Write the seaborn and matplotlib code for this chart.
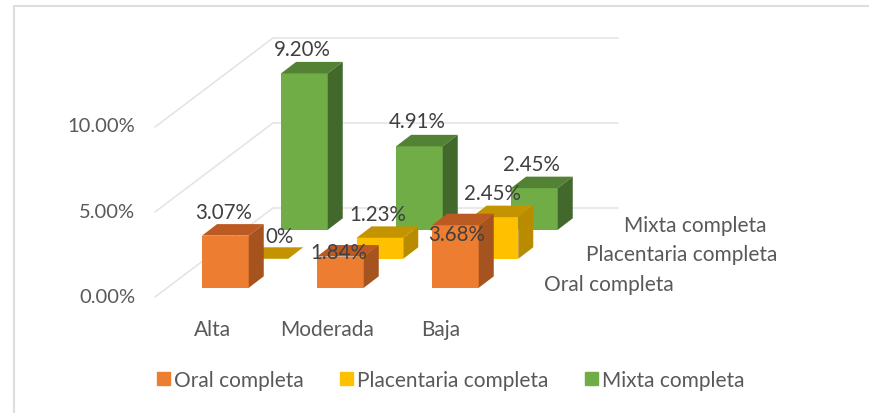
import numpy as np
import seaborn as sns
import matplotlib
matplotlib.use("Agg")
import matplotlib.pyplot as plt
from matplotlib.patches import Patch

categorias = ["Alta", "Moderada", "Baja"]
series = ["Oral completa", "Placentaria completa", "Mixta completa"]
oral = [3.07, 1.84, 3.68]
placentaria = [0.0, 1.23, 2.45]
mixta = [9.20, 4.91, 2.45]
etiq_oral = ["3.07%", "1.84%", "3.68%"]
etiq_placentaria = ["0%", "1.23%", "2.45%"]
etiq_mixta = ["9.20%", "4.91%", "2.45%"]
ticks = [0, 5, 10]
tick_labels = ["0.00%", "5.00%", "10.00%"]

W, H = 869, 414
# escala en pixeles de la proyeccion oblicua
PX_CAT = 115.0
PX_PCT = 17.0
X0_PX = 225.4
Y0_PX = 288.8
ANCHO = 46.7 / PX_CAT
PASO_X = 39.5 / PX_CAT
PASO_Y = 29.0 / PX_PCT
LADO_X = 15.0 / PX_CAT
LADO_Y = 11.5 / PX_PCT

COLORES = {
    "Oral completa": ("#ED7D31", "#BC5A24", "#A5531F"),
    "Placentaria completa": ("#FFC000", "#C49400", "#B98C00"),
    "Mixta completa": ("#70AD47", "#548235", "#43682B"),
}
GRIS = "#595959"
GRID = "#E3E3E3"
MARCO = "#DEDEDE"


def px(x, y):
    return x / W, 1 - y / H


def dx(x):
    return (x - X0_PX) / PX_CAT


def dy(y):
    return (Y0_PX - y) / PX_PCT


sns.set_theme(style="white")
plt.rcParams["font.family"] = ["Lato", "DejaVu Sans"]

fig = plt.figure(figsize=(W / 100, H / 100), dpi=100, facecolor="white")
ax = fig.add_axes([0, 0, 1, 1])
ax.set_axis_off()

# paredes: lineas de rejilla
for t in ticks:
    y_front = t + dy(298)
    y_back = y_front + 89 / PX_PCT
    ax.plot([dx(155), dx(273), dx(618)], [y_front, y_back, y_back],
            color=GRID, lw=1.1, solid_joinstyle="miter", zorder=0.5)

# de atras hacia adelante
datos = [("Mixta completa", mixta, 2), ("Placentaria completa", placentaria, 1), ("Oral completa", oral, 0)]
for nombre, valores, d in datos:
    frente, tapa, lado = COLORES[nombre]
    pos = np.arange(3) + d * PASO_X
    base = d * PASO_Y
    sns.barplot(x=pos, y=valores, native_scale=True, width=ANCHO, color=frente,
                saturation=1, bottom=base, ax=ax, linewidth=0, errorbar=None)
    for xc, v in zip(pos, valores):
        izq, der = xc - ANCHO / 2, xc + ANCHO / 2
        arriba = base + v
        ax.fill([izq, der, der + LADO_X, izq + LADO_X],
                [arriba, arriba, arriba + LADO_Y, arriba + LADO_Y],
                color=tapa, lw=0)
        if v > 0:
            ax.fill([der, der + LADO_X, der + LADO_X, der],
                    [base, base + LADO_Y, arriba + LADO_Y, arriba],
                    color=lado, lw=0)

# marco del grafico
ax.plot([dx(14), dx(14), dx(869)], [dy(414), dy(7), dy(7)], color=MARCO, lw=1.5,
        solid_joinstyle="miter")

ax.set_xlim(dx(0), dx(W))
ax.set_ylim(dy(H), dy(0))

# etiquetas de datos
pos_oral = [(224, 213), (339, 253), (457, 235)]
pos_plac = [(280, 237), (378, 215), (492, 194)]
pos_mixta = [(302, 50), (417, 122), (531, 165)]
for etiquetas, posiciones in [(etiq_mixta, pos_mixta), (etiq_placentaria, pos_plac), (etiq_oral, pos_oral)]:
    for txt, (xp, yp) in zip(etiquetas, posiciones):
        fx, fy = px(xp, yp)
        fig.text(fx, fy, txt, ha="center", va="center", color="#404040", fontsize=14.8, zorder=5)

# ejes a mano
for lab, yp in zip(tick_labels, [298, 213, 126]):
    fx, fy = px(135, yp)
    fig.text(fx, fy, lab, ha="right", va="center", color=GRIS, fontsize=14.5)
for lab, xp in zip(categorias, [212, 327, 441]):
    fx, fy = px(xp, 330)
    fig.text(fx, fy, lab, ha="center", va="center", color=GRIS, fontsize=15)
for lab, (xp, yp) in zip(series, [(674, 285), (777, 255), (766, 226)]):
    fx, fy = px(xp, yp)
    fig.text(fx, fy, lab, ha="right", va="center", color=GRIS, fontsize=15)

handles = [Patch(color=COLORES[s][0], label=s) for s in series]
fig.legend(handles=handles, loc="center", bbox_to_anchor=px(451, 381), ncol=3, frameon=False,
           fontsize=15, labelcolor=GRIS, handlelength=0.62, handleheight=0.62,
           handletextpad=0.2, columnspacing=1.75)

fig.savefig("out.png", dpi=100, facecolor="white")
